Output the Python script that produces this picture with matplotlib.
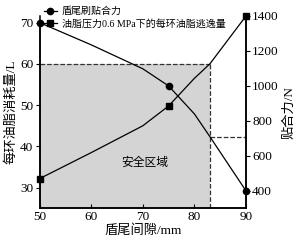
import matplotlib
matplotlib.use("Agg")
import matplotlib.pyplot as plt

plt.rcParams['font.family'] = ['Liberation Serif', 'Noto Sans CJK SC']
plt.rcParams['axes.unicode_minus'] = False
plt.rcParams['axes.linewidth'] = 1.1

# data
gap = [50, 60, 70, 75, 80, 83, 90]
grease = [32.2, 38.5, 45.0, 49.8, 56.5, 60.0, 71.6]      # L per ring (left axis)
force = [1362, 1235, 1098, 1000, 840, 710, 400]          # N (right axis)
mark_idx = [0, 3, 6]

safe_x = [50, 83]
safe_y = [25, 60]
limit_force = 710

xticks = [50, 60, 70, 80, 90]
yticks_left = [30, 40, 50, 60, 70]
yticks_right = [400, 600, 800, 1000, 1200, 1400]

fig = plt.figure(figsize=(3.0, 2.42), dpi=100)
ax = fig.add_axes([0.132, 0.139, 0.688, 0.795])
ax2 = ax.twinx()

# safe zone
ax.fill_between(safe_x, safe_y[0], safe_y[1], color='#d4d4d4', zorder=0, lw=0)
ax.plot(safe_x, [safe_y[1], safe_y[1]], ls='--', color='#333333', lw=0.9)
ax.plot([safe_x[1], safe_x[1]], safe_y, ls='--', color='#333333', lw=0.9)
ax2.plot([safe_x[1], 90], [limit_force, limit_force], ls='--', color='#333333', lw=0.9)

l2, = ax.plot(gap, grease, color='black', lw=0.9, marker='s', ms=4,
              markevery=mark_idx, clip_on=False, zorder=5,
              label='油脂压力0.6 MPa下的每环油脂逃逸量')
l1, = ax2.plot(gap, force, color='black', lw=0.9, marker='o', ms=4.5,
               markevery=mark_idx, clip_on=False, zorder=5,
               label='盾尾刷贴合力')

ax.text(70.3, 36, '安全区域', fontsize=8.5, ha='center', va='center')

ax.set_xlim(50, 90)
ax.set_ylim(25, 71.6)
ax2.set_ylim(300, 1400)
ax.set_xticks(xticks)
ax.set_yticks(yticks_left)
ax2.set_yticks(yticks_right)

for a in (ax, ax2):
    a.spines['top'].set_visible(False)
ax.spines['left'].set_bounds(25, 70)
ax.tick_params(axis='x', direction='in', labelsize=9.5, length=3, pad=2)
ax.tick_params(axis='y', direction='out', labelsize=9.5, length=3, pad=1.5)
ax2.tick_params(axis='y', direction='out', labelsize=9.5, length=3, pad=1.5)

ax.set_xlabel('盾尾间隙/mm', fontsize=9.5, labelpad=1)
ax.set_ylabel('每环油脂消耗量/L', fontsize=9.5, labelpad=2)
ax2.set_ylabel('贴合力/N', fontsize=9.5, labelpad=3)

fig.legend([l1, l2], [l1.get_label(), l2.get_label()], loc='upper left',
           bbox_to_anchor=(0.145, 0.972), frameon=False, fontsize=7.2,
           handlelength=1.3, handletextpad=0.5, labelspacing=0.25,
           borderaxespad=0, borderpad=0)

fig.savefig('out.png', dpi=100)
